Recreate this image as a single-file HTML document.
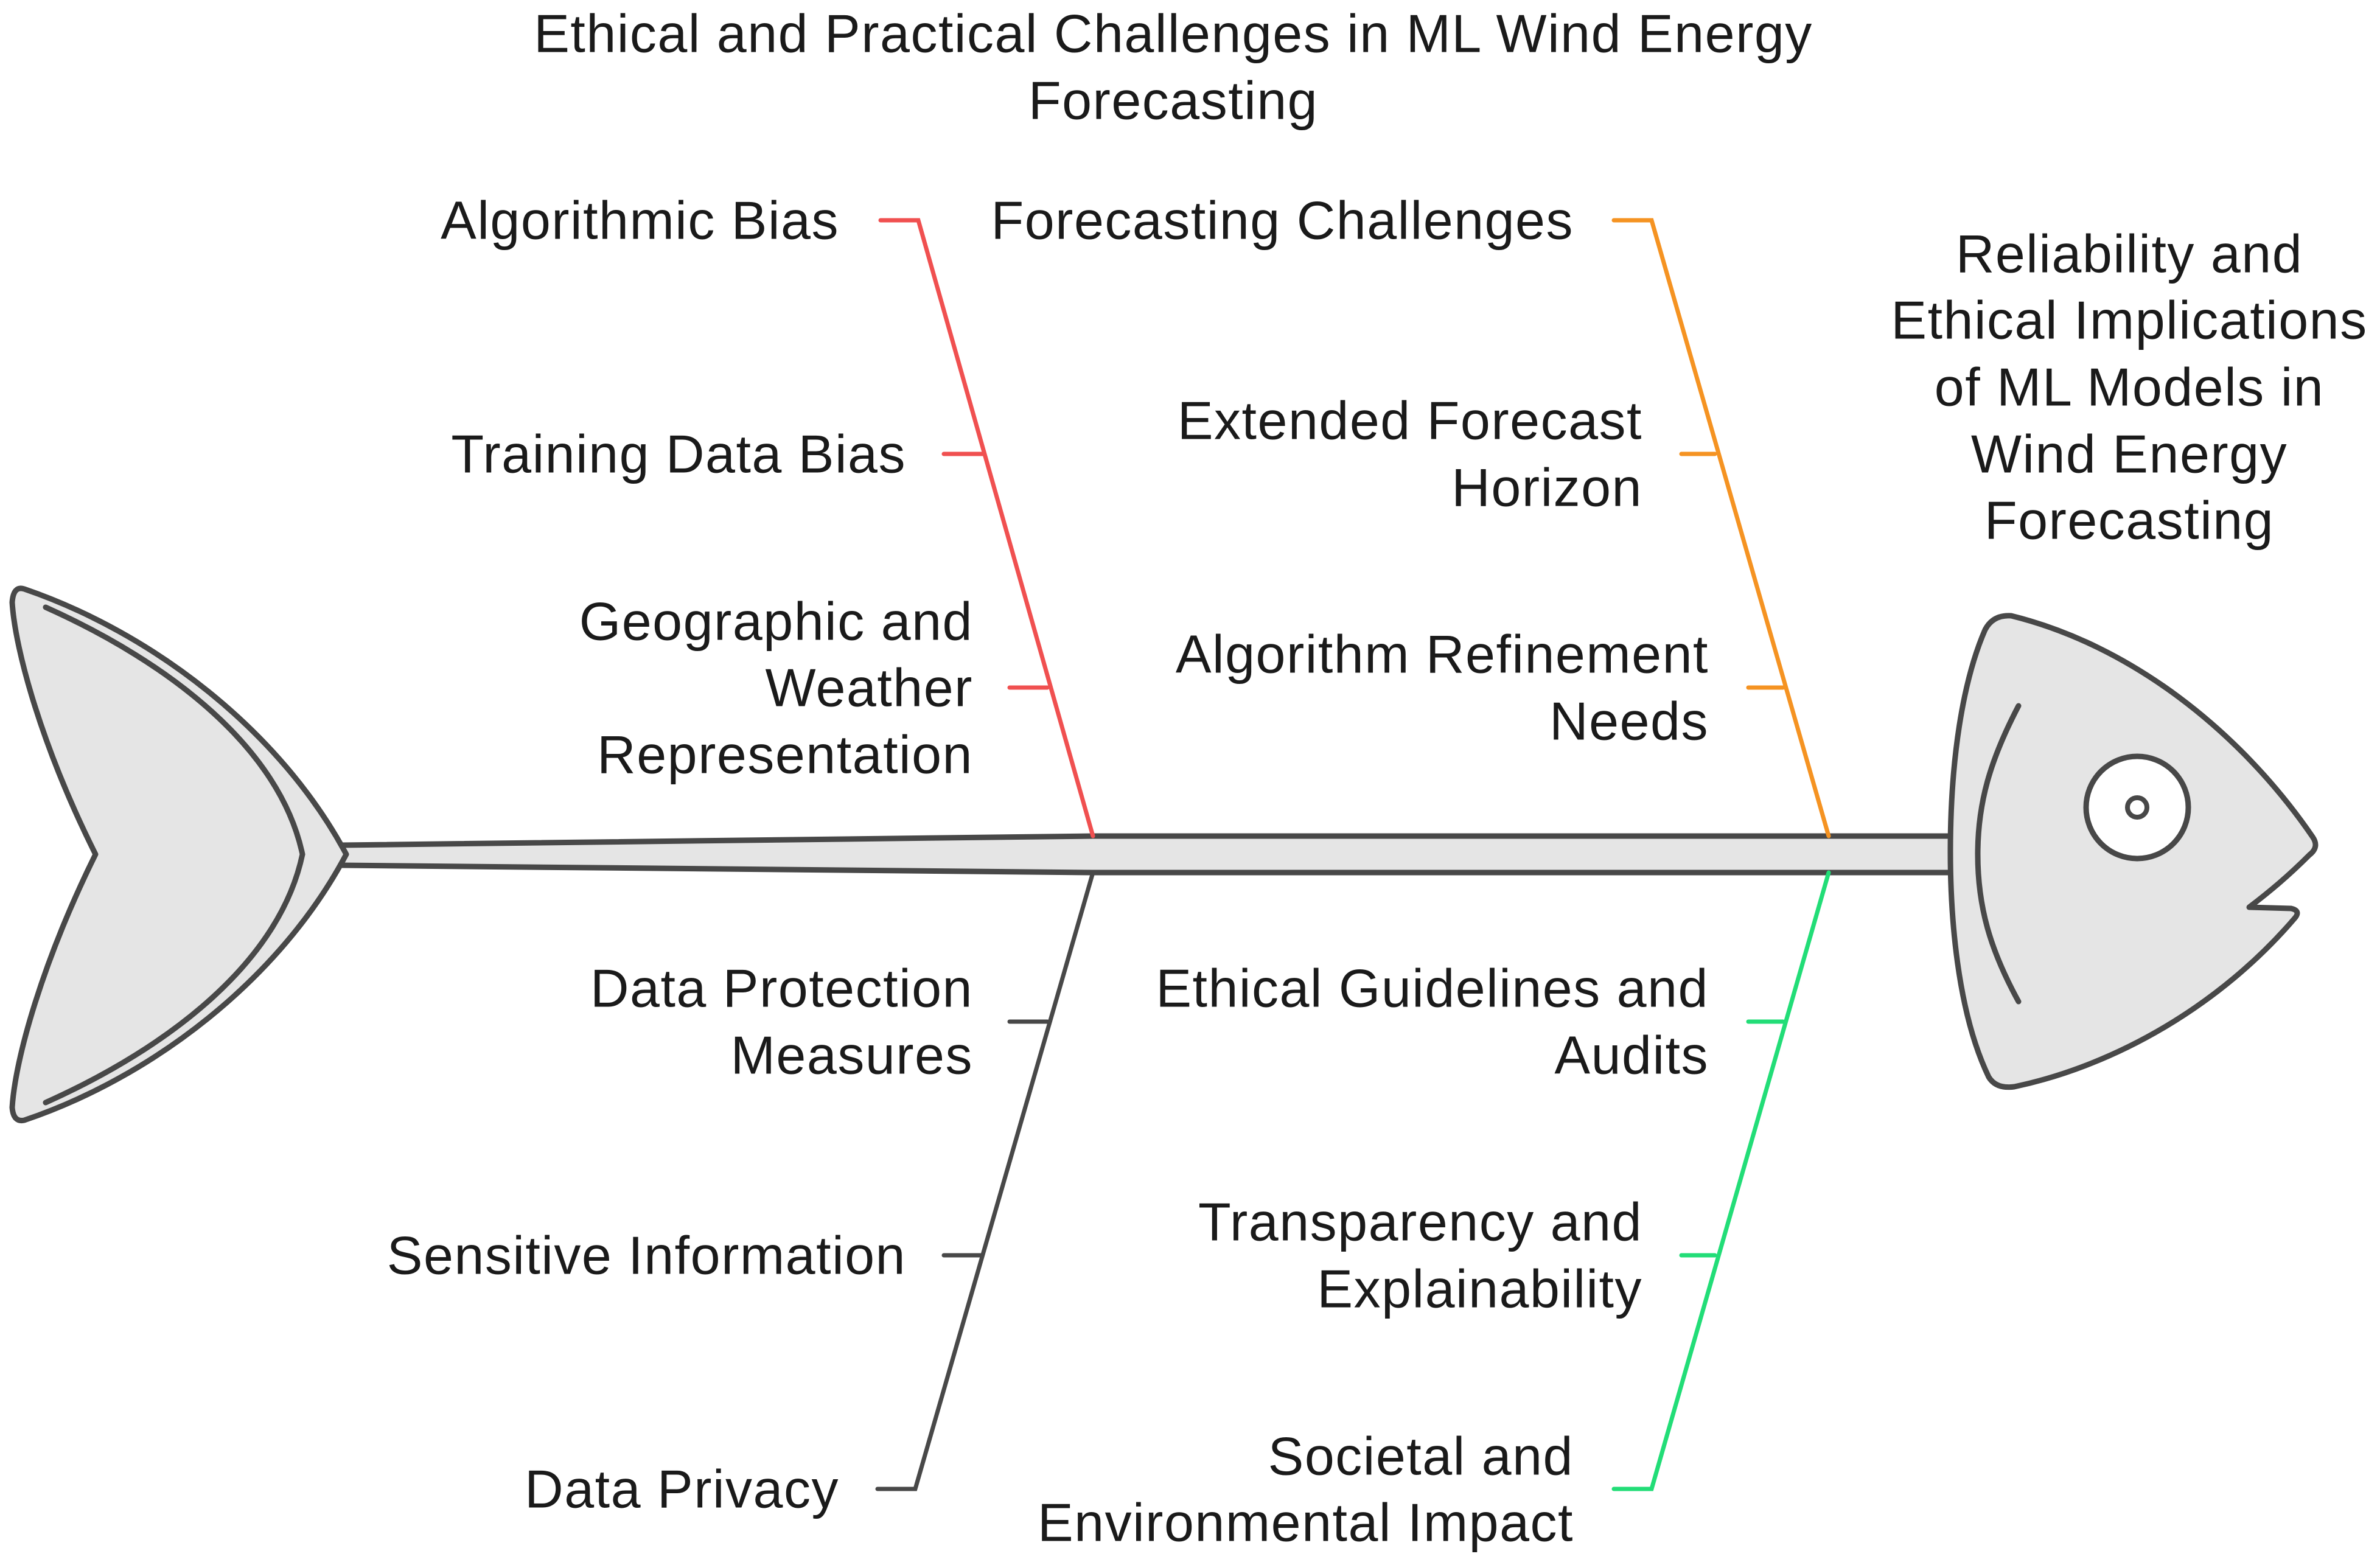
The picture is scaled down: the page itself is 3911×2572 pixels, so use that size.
<!DOCTYPE html>
<html><head><meta charset="utf-8"><style>
html,body{margin:0;padding:0;background:#fff;}
svg{display:block;}
text{font-family:"Liberation Sans",sans-serif;font-size:88px;letter-spacing:1.5px;fill:#1a1a1a;}
</style></head><body>
<svg width="3911" height="2572" viewBox="0 0 3911 2572" xmlns="http://www.w3.org/2000/svg">
<path d="M560,1389 L1796,1374 L3210,1374 L3210,1434 L1796,1434 L560,1422 Z" fill="#e5e5e5" stroke="none"/>
<path d="M560,1389 L1796,1374 L3210,1374 M560,1422 L1796,1434 L3210,1434" fill="none" stroke="#484848" stroke-width="9"/>
<path d="M40,968 C250,1040 460,1200 569,1404 C460,1610 250,1770 40,1841 Q22,1845 20,1820 C25,1740 70,1580 157,1404 C70,1230 25,1070 20,990 Q22,962 40,968 Z" fill="#e5e5e5" stroke="#484848" stroke-width="9" stroke-linejoin="round"/>
<path d="M75,998 C280,1090 460,1230 497,1404 C460,1580 280,1720 75,1812" fill="none" stroke="#484848" stroke-width="9" stroke-linecap="round"/>
<path d="M3305,1012 C3500,1060 3680,1200 3800,1375 Q3812,1392 3795,1405 C3760,1440 3730,1465 3696,1491 L3765,1493 Q3782,1497 3770,1510 C3650,1650 3480,1750 3310,1786 Q3280,1790 3268,1770 C3215,1660 3205,1500 3205,1400 C3205,1250 3225,1120 3262,1035 Q3275,1010 3305,1012 Z" fill="#e5e5e5" stroke="#484848" stroke-width="9" stroke-linejoin="round"/>
<path d="M3317,1160 C3270,1250 3250,1320 3250,1404 C3250,1490 3270,1560 3317,1646" fill="none" stroke="#484848" stroke-width="9" stroke-linecap="round"/>
<circle cx="3512" cy="1327" r="84" fill="#fff" stroke="#484848" stroke-width="9"/>
<circle cx="3512" cy="1327" r="16" fill="#fff" stroke="#484848" stroke-width="8"/>
<g fill="none" stroke-width="7" stroke-linecap="round">
<path d="M1447,362 L1509,362 L1796,1374 M1551,746 L1616,746 M1659,1130 L1721,1130" stroke="#f05050"/>
<path d="M2652,362 L2714,362 L3005,1374 M2763,746 L2818,746 M2873,1130 L2930,1130" stroke="#f59322"/>
<path d="M1442,2447 L1504,2447 L1796,1434 M1551,2063 L1611,2063 M1659,1679 L1721,1679" stroke="#484848"/>
<path d="M2652,2447 L2714,2447 L3005,1434 M2763,2063 L2818,2063 M2873,1679 L2930,1679" stroke="#22dd77"/>
</g>
<g text-anchor="end" dominant-baseline="central">
<text x="1379" y="362">Algorithmic Bias</text>
<text x="1489" y="746">Training Data Bias</text>
<text x="1599" y="1021">Geographic and</text>
<text x="1599" y="1130">Weather</text>
<text x="1599" y="1240">Representation</text>
<text x="2586" y="362">Forecasting Challenges</text>
<text x="2699" y="691">Extended Forecast</text>
<text x="2699" y="801">Horizon</text>
<text x="2808" y="1075">Algorithm Refinement</text>
<text x="2808" y="1185">Needs</text>
<text x="1599" y="1624">Data Protection</text>
<text x="1599" y="1734">Measures</text>
<text x="1489" y="2063">Sensitive Information</text>
<text x="1379" y="2447">Data Privacy</text>
<text x="2808" y="1624">Ethical Guidelines and</text>
<text x="2808" y="1734">Audits</text>
<text x="2699" y="2008">Transparency and</text>
<text x="2699" y="2118">Explainability</text>
<text x="2586" y="2393">Societal and</text>
<text x="2586" y="2502">Environmental Impact</text>
</g>
<g text-anchor="middle" dominant-baseline="central">
<text x="1928" y="55">Ethical and Practical Challenges in ML Wind Energy</text>
<text x="1928" y="165">Forecasting</text>
<text x="3499" y="417">Reliability and</text>
<text x="3499" y="526">Ethical Implications</text>
<text x="3499" y="636">of ML Models in</text>
<text x="3499" y="746">Wind Energy</text>
<text x="3499" y="855">Forecasting</text>
</g>
</svg>
</body></html>
